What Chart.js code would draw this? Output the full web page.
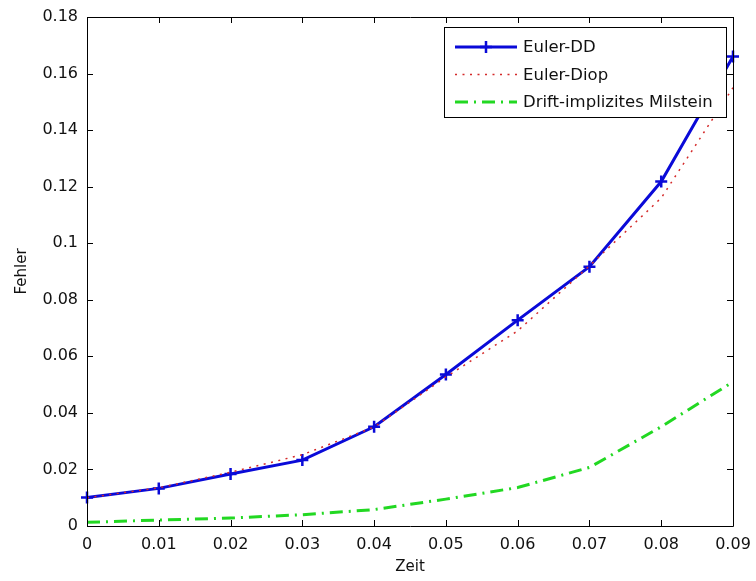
<!DOCTYPE html>
<html>
<head>
<meta charset="utf-8">
<script src="https://cdn.jsdelivr.net/npm/chart.js@4/dist/chart.umd.min.js"></script>
<style>
html,body{margin:0;padding:0;background:#fff;}
#wrap{width:756px;height:581px;position:relative;}
</style>
</head>
<body>
<div id="wrap"><canvas id="c" width="756" height="581"></canvas></div>
<script>
const zeit = [0, 0.01, 0.02, 0.03, 0.04, 0.05, 0.06, 0.07, 0.08, 0.09];
const eulerDD = [0.0101, 0.0133, 0.0184, 0.0233, 0.0351, 0.0536, 0.0728, 0.0917, 0.1218, 0.166];
const eulerDiop = [0.0100, 0.0135, 0.0190, 0.0252, 0.0350, 0.0527, 0.0690, 0.0920, 0.1160, 0.1550];
const milstein = [0.0013, 0.0021, 0.0028, 0.0040, 0.0058, 0.0095, 0.0136, 0.0207, 0.0351, 0.0510];
const seriesNames = ['Euler-DD', 'Euler-Diop', 'Drift-implizites Milstein'];
const xTicks = [0, 0.01, 0.02, 0.03, 0.04, 0.05, 0.06, 0.07, 0.08, 0.09];
const yTicks = [0, 0.02, 0.04, 0.06, 0.08, 0.1, 0.12, 0.14, 0.16, 0.18];

const FONT = 'DejaVu Sans';
const toPts = (ys) => zeit.map((x, i) => ({x: x, y: ys[i]}));
const fmt = (v) => String(+(+v).toFixed(2));

const frameAndTicks = {
  id: 'frameAndTicks',
  afterDatasetsDraw(chart) {
    const {ctx, chartArea: a, scales} = chart;
    ctx.save();
    ctx.strokeStyle = '#000';
    ctx.lineWidth = 1;
    ctx.beginPath();
    ctx.moveTo(a.left + 0.5, a.top + 0.5);
    ctx.lineTo(a.right + 0.5, a.top + 0.5);
    ctx.lineTo(a.right + 0.5, a.bottom + 0.5);
    ctx.lineTo(a.left + 0.5, a.bottom + 0.5);
    ctx.closePath();
    ctx.stroke();
    const L = 6;
    ctx.beginPath();
    xTicks.forEach(v => {
      const px = Math.round(scales.x.getPixelForValue(v)) + 0.5;
      ctx.moveTo(px, a.bottom); ctx.lineTo(px, a.bottom - L);
      ctx.moveTo(px, a.top); ctx.lineTo(px, a.top + L);
    });
    yTicks.forEach(v => {
      const py = Math.round(scales.y.getPixelForValue(v)) + 0.5;
      ctx.moveTo(a.left, py); ctx.lineTo(a.left + L, py);
      ctx.moveTo(a.right, py); ctx.lineTo(a.right - L, py);
    });
    ctx.stroke();
    ctx.restore();
  },
  afterDraw(chart) {
    const {ctx, chartArea: a} = chart;
    const ds = chart.data.datasets;
    const bx = a.right - 7, bw = 282, bh = 90;
    const x0 = bx - bw, y0 = a.top + 10;
    ctx.save();
    ctx.fillStyle = '#fff';
    ctx.fillRect(x0, y0, bw, bh);
    ctx.strokeStyle = '#000';
    ctx.lineWidth = 1;
    ctx.strokeRect(Math.round(x0) + 0.5, Math.round(y0) + 0.5, bw, bh);
    const rows = [20, 47.5, 75];
    ds.forEach((d, i) => {
      const y = y0 + rows[i];
      ctx.save();
      ctx.strokeStyle = d.borderColor;
      ctx.lineWidth = d.borderWidth;
      ctx.setLineDash(d.borderDash || []);
      ctx.beginPath();
      ctx.moveTo(x0 + 11, y);
      ctx.lineTo(x0 + 73, y);
      ctx.stroke();
      ctx.setLineDash([]);
      if (d.pointRadius > 0) {
        const cx = x0 + 42, r = d.pointRadius;
        ctx.lineWidth = d.pointBorderWidth;
        ctx.beginPath();
        ctx.moveTo(cx - r, y); ctx.lineTo(cx + r, y);
        ctx.moveTo(cx, y - r); ctx.lineTo(cx, y + r);
        ctx.stroke();
      }
      ctx.restore();
      ctx.fillStyle = '#111';
      ctx.font = '16.5px "' + FONT + '"';
      ctx.textBaseline = 'middle';
      ctx.textAlign = 'left';
      ctx.fillText(d.label, x0 + 79, y + 1);
    });
    ctx.restore();
  }
};

new Chart(document.getElementById('c'), {
  type: 'line',
  data: {
    datasets: [
      {
        label: seriesNames[0], data: toPts(eulerDD),
        borderColor: '#0a0ad8', backgroundColor: '#0a0ad8', borderWidth: 3,
        pointStyle: 'cross', pointRadius: 6, pointBorderWidth: 2.5,
        pointBorderColor: '#0a0ad8', tension: 0, clip: false, order: 3
      },
      {
        label: seriesNames[1], data: toPts(eulerDiop),
        borderColor: '#d42a2a', backgroundColor: '#d42a2a', borderWidth: 1.5,
        borderDash: [2, 5.5], pointRadius: 0, tension: 0, order: 2
      },
      {
        label: seriesNames[2], data: toPts(milstein),
        borderColor: '#22d822', backgroundColor: '#22d822', borderWidth: 3,
        borderDash: [13, 6, 2, 6], pointRadius: 0, tension: 0, order: 1
      }
    ]
  },
  options: {
    responsive: false,
    animation: false,
    devicePixelRatio: 1,
    layout: {padding: {top: 17, right: 23, left: 0, bottom: 0}},
    plugins: {legend: {display: false}, tooltip: {enabled: false}},
    scales: {
      x: {
        type: 'linear', min: 0, max: 0.09,
        afterBuildTicks: (s) => { s.ticks = xTicks.map(v => ({value: v})); },
        afterFit: (s) => { s.height = 55; s.paddingLeft = 0; s.paddingRight = 0; },
        grid: {display: false, drawTicks: false},
        border: {display: false},
        ticks: {color: '#111', padding: 9, maxRotation: 0, autoSkip: false,
                font: {family: FONT, size: 16}, callback: (v) => fmt(v)},
        title: {display: true, text: 'Zeit', color: '#111',
                font: {family: FONT, size: 15}, padding: {top: 0, bottom: 5}}
      },
      y: {
        type: 'linear', min: 0, max: 0.18,
        afterBuildTicks: (s) => { s.ticks = yTicks.map(v => ({value: v})); },
        afterFit: (s) => { s.width = 87; s.paddingTop = 0; s.paddingBottom = 0; },
        grid: {display: false, drawTicks: false},
        border: {display: false},
        ticks: {color: '#111', padding: 9, autoSkip: false,
                font: {family: FONT, size: 16}, callback: (v) => fmt(v)},
        title: {display: true, text: 'Fehler', color: '#111',
                font: {family: FONT, size: 15}, padding: {top: 13, bottom: 0}}
      }
    }
  },
  plugins: [frameAndTicks]
});
</script>
</body>
</html>
